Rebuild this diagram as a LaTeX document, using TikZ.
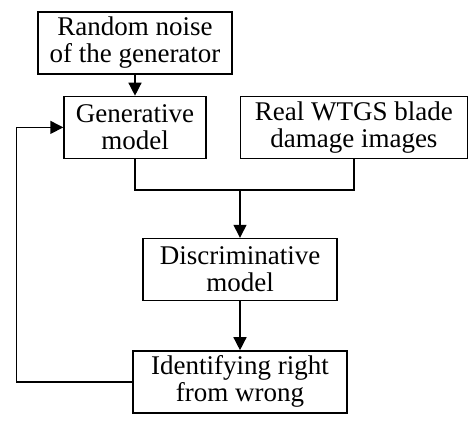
\documentclass[tikz,border=0pt]{standalone}
\usepackage{fontspec}
\setmainfont{Liberation Serif}
\usetikzlibrary{positioning,arrows.meta}

\begin{document}
\begin{tikzpicture}[x=0.5pt,y=-0.5pt,
    box/.style={draw, line width=0.7pt, align=center, inner sep=0pt, minimum height=31pt,
        font=\fontsize{13.5}{13.5}\selectfont},
    flow/.style={-{Triangle[length=6.5pt,width=6.5pt]}, line width=0.7pt},
    link/.style={line width=0.7pt}
]
    \useasboundingbox (0,0) rectangle (476,421);

    \node[box, minimum width=97pt] (noise) at (135,43) {Random noise\\of the generator};
    \node[box, minimum width=71pt, below=10.5pt of noise] (gen) {Generative\\model};
    \node[box, minimum width=113.5pt, right=16.5pt of gen] (real) {Real WTGS blade\\damage images};

    \node[box, minimum width=97pt] (disc) at (240,269.5) {Discriminative\\model};
    \node[box, minimum width=107pt, below=24.5pt of disc] (ident) {Identifying right\\from wrong};

    % merge of the two sources
    \coordinate (join) at (240,190);
    \draw[link] (gen.south) |- (join) -| (real.south);

    \draw[flow] (noise) -- (gen);
    \draw[flow] (join) -- (disc);
    \draw[flow] (disc) -- (ident);

    % feedback to the generator
    \draw[flow] (ident.west) -- ++(-116,0) |- (gen.west);
\end{tikzpicture}
\end{document}
